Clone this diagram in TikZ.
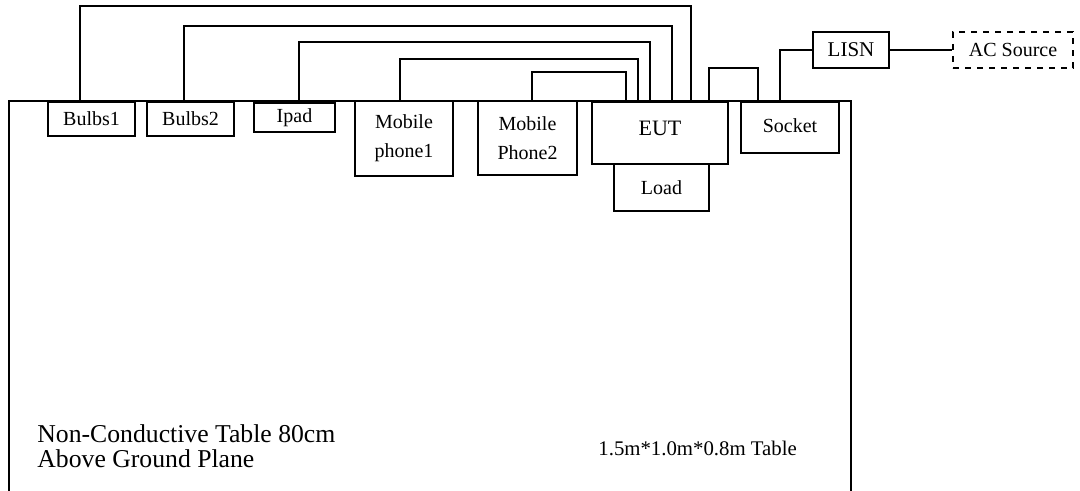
\documentclass[tikz,border=0pt]{standalone}
\usepackage{fontspec}
\setmainfont{Liberation Serif}
\begin{document}
\begin{tikzpicture}[x=0.5pt,y=-0.5pt,
  box/.style={draw,line width=1pt,inner sep=0pt,align=center,font=\fontsize{10}{14.5}\selectfont},
  wire/.style={line width=0.9pt},
  tbl/.style={line width=0.8pt}]
\useasboundingbox (0,0) rectangle (1080,491);
\fill[white] (0,0) rectangle (1080,491);
% table outline
\draw[tbl] (9,500) -- (9,101) -- (851,101) -- (851,500);
% devices
\node[box,minimum width=43.5pt,minimum height=17pt] (b1) at (91.5,119) {Bulbs1};
\node[box,minimum width=43.5pt,minimum height=17pt] (b2) at (190.5,119) {Bulbs2};
\node[box,minimum width=40.5pt,minimum height=14.5pt] (ipad) at (294.5,117.5) {Ipad};
\node[box,minimum width=49pt,minimum height=37.5pt] (mp1) at (404,138.5) {Mobile\\phone1};
\node[box,minimum width=49.5pt,minimum height=37pt] (mp2) at (527.5,138) {Mobile\\Phone2};
\node[box,minimum width=68pt,minimum height=31pt,font=\fontsize{11}{13}\selectfont] (eut) at (660,133) {\raisebox{4.5pt}{EUT}};
\node[box,minimum width=47.5pt,minimum height=23.5pt] (load) at (661.5,187.5) {Load};
\node[box,minimum width=49pt,minimum height=25.5pt] (socket) at (790,127.5) {\raisebox{2pt}{Socket}};
\node[box,minimum width=38pt,minimum height=18pt,font=\fontsize{10.5}{13}\selectfont] (lisn) at (851,50) {LISN};
\node[box,dashed,minimum width=60pt,minimum height=18pt] (ac) at (1013,50) {AC Source};
% wires
\draw[wire] (b1.north -| 80,0) -- (80,6) -| (eut.north -| 691,0);
\draw[wire] (b2.north -| 184,0) -- (184,26) -| (eut.north -| 672,0);
\draw[wire] (ipad.north -| 299,0) -- (299,42) -| (eut.north -| 650,0);
\draw[wire] (mp1.north -| 400,0) -- (400,59) -| (eut.north -| 638,0);
\draw[wire] (mp2.north -| 532,0) -- (532,72) -| (eut.north -| 626,0);
\draw[wire] (eut.north -| 709,0) -- (709,68) -| (socket.north -| 758,0);
\draw[wire] (socket.north -| 780,0) |- (lisn.west);
\draw[wire] (lisn) -- (ac);
% captions
\node[anchor=base west,inner sep=0pt,align=left,font=\fontsize{12.85}{12.5}\selectfont] (cap1) at (37,467) {Non-Conductive Table 80cm\\Above Ground Plane};
\node[anchor=base west,inner sep=0pt,font=\fontsize{10.4}{12}\selectfont] (cap2) at (598,455) {1.5m*1.0m*0.8m Table};
\end{tikzpicture}
\end{document}
